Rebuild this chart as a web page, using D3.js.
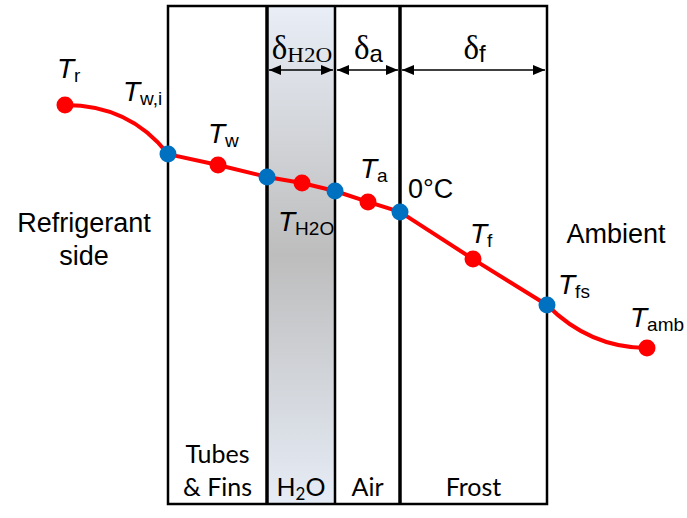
<!DOCTYPE html>
<html>
<head>
<meta charset="utf-8">
<script src="https://cdn.jsdelivr.net/npm/d3@7"></script>
<style>
  html, body { margin: 0; padding: 0; background: #fff; }
  svg { display: block; }
</style>
</head>
<body>
<svg id="chart" width="687" height="518"></svg>
<script>
// Layers of the frosted heat-exchanger wall, from refrigerant to ambient air
const layerNames = ["Tubes & Fins", "H2O", "Air", "Frost"];
// Layer boundaries, in depth units from the inner tube wall
const layerEdges = [0, 99, 167, 232, 379];
// Thickness markers drawn across the top of the layers (edge index ranges)
const thicknessSymbols = ["H2O", "a", "f"];
const thicknessFrom = [1, 2, 3];
const thicknessTo = [2, 3, 4];

// Temperature profile nodes
const nodeNames = ["Tr", "Tw,i", "Tw", "Tw,o", "TH2O", "TH2O,o", "Ta", "T0", "Tf", "Tfs", "Tamb"];
const nodeDepth = [-103, 0, 50, 99, 134, 167, 200, 232, 305, 379, 479];
// Relative temperature drop (0 = refrigerant, 100 = ambient)
const nodeTemp = [0, 20.2, 24.7, 29.6, 32.1, 35.4, 39.9, 44.0, 63.4, 82.3, 100];
// "bulk" = layer mean temperature, "interface" = boundary temperature
const nodeKind = ["bulk", "interface", "bulk", "interface", "bulk", "interface",
                  "bulk", "interface", "bulk", "interface", "bulk"];

// Text of the node labels: main symbol + subscript
const labelMain = ["T", "T", "T", "T", "T", "0°C", "T", "T", "T"];
const labelSub  = ["r", "w,i", "w", "H2O", "a", "", "f", "fs", "amb"];
const labelNode = ["Tr", "Tw,i", "Tw", "TH2O", "Ta", "T0", "Tf", "Tfs", "Tamb"];

const svg = d3.select("#chart");

const x = d3.scaleLinear().domain([0, 379]).range([168, 547]);
const y = d3.scaleLinear().domain([0, 100]).range([105, 348]);
const boxTop = 6, boxBottom = 504;

const SANS = "'Liberation Sans', Arial, sans-serif";
const SERIF = "'Liberation Serif', 'Times New Roman', serif";
const LABEL = "Lato, 'Open Sans', sans-serif";

// Gradient for the water film
const defs = svg.append("defs");
const grad = defs.append("linearGradient").attr("id", "waterGrad")
  .attr("x1", 0).attr("y1", 0).attr("x2", 0).attr("y2", 1);
grad.append("stop").attr("offset", "0%").attr("stop-color", "#e9eef7");
grad.append("stop").attr("offset", "50%").attr("stop-color", "#bdbdbd");
grad.append("stop").attr("offset", "100%").attr("stop-color", "#e6ecf6");

const marker = (id, orient) => defs.append("marker")
  .attr("id", id).attr("viewBox", "0 0 12 10").attr("refX", 12).attr("refY", 5)
  .attr("markerWidth", 12).attr("markerHeight", 10).attr("markerUnits", "userSpaceOnUse")
  .attr("orient", orient)
  .append("path").attr("d", "M0,0 L12,5 L0,10 Z").attr("fill", "#000");
marker("arrowEnd", "auto");
marker("arrowStart", "auto-start-reverse");

// Water film fill
const h2oIdx = layerNames.indexOf("H2O");
svg.append("rect")
  .attr("x", x(layerEdges[h2oIdx])).attr("y", boxTop)
  .attr("width", x(layerEdges[h2oIdx + 1]) - x(layerEdges[h2oIdx]))
  .attr("height", boxBottom - boxTop)
  .attr("fill", "url(#waterGrad)");

// Outer frame
svg.append("rect")
  .attr("x", x(layerEdges[0])).attr("y", boxTop)
  .attr("width", x(layerEdges[layerEdges.length - 1]) - x(layerEdges[0]))
  .attr("height", boxBottom - boxTop)
  .attr("fill", "none").attr("stroke", "#000").attr("stroke-width", 2.5);

// Inner layer boundaries (water film / frost boundaries are heavier)
const edgeWidth = [2.5, 3.5, 2.5, 3.5, 2.5];
svg.selectAll("line.edge").data(layerEdges.slice(1, -1)).join("line")
  .attr("class", "edge")
  .attr("x1", d => x(d)).attr("x2", d => x(d))
  .attr("y1", boxTop).attr("y2", boxBottom)
  .attr("stroke", "#000")
  .attr("stroke-width", (d, i) => edgeWidth[i + 1]);

// Thickness arrows
const arrowY = 70;
thicknessSymbols.forEach((s, i) => {
  const a = x(layerEdges[thicknessFrom[i]]), b = x(layerEdges[thicknessTo[i]]);
  svg.append("line")
    .attr("x1", a + 2).attr("x2", b - 2).attr("y1", arrowY).attr("y2", arrowY)
    .attr("stroke", "#000").attr("stroke-width", 1.5)
    .attr("marker-start", "url(#arrowStart)").attr("marker-end", "url(#arrowEnd)");
  const t = svg.append("text").attr("y", 59).attr("fill", "#000");
  t.append("tspan").attr("font-family", SERIF).attr("font-size", 33).text("δ");
  if (s === "H2O") {
    t.append("tspan").attr("font-family", SERIF).attr("font-size", 22)
      .attr("dy", 3).attr("textLength", 45).attr("lengthAdjust", "spacingAndGlyphs").text("H2O");
  } else {
    t.append("tspan").attr("font-family", SANS).attr("font-size", 24)
      .attr("dy", 3).text(s);
  }
  const w = t.node().getComputedTextLength();
  t.attr("x", (a + b) / 2 - w / 2 + 1);
});

// Temperature profile
const pts = nodeNames.map((n, i) => ({ name: n, px: x(nodeDepth[i]), py: y(nodeTemp[i]), kind: nodeKind[i] }));
const path = d3.path();
const first = pts[0], second = pts[1];
path.moveTo(first.px, first.py);
// Convective boundary layer on refrigerant side: leaves the bulk flat
path.quadraticCurveTo(second.px - 0.37 * (second.px - first.px), first.py, second.px, second.py);
for (let i = 2; i < pts.length - 1; i++) path.lineTo(pts[i].px, pts[i].py);
const pen = pts[pts.length - 2], last = pts[pts.length - 1];
// Air boundary layer on the ambient side: flattens into the free stream
path.quadraticCurveTo(pen.px + 0.43 * (last.px - pen.px), last.py, last.px, last.py);

svg.append("path").attr("d", path.toString())
  .attr("fill", "none").attr("stroke", "#ff0000").attr("stroke-width", 4)
  .attr("stroke-linejoin", "round");

svg.selectAll("circle.node").data(pts).join("circle")
  .attr("class", "node")
  .attr("cx", d => d.px).attr("cy", d => d.py).attr("r", 8.5)
  .attr("fill", d => d.kind === "bulk" ? "#ff0000" : "#0070c0");

// Label placement, relative to its node (dx, dy to the text baseline start)
const labelOffset = {
  "Tr":   [-8, -27],
  "Tw,i": [-45, -53],
  "Tw":   [-10, -22],
  "TH2O": [-24, 48],
  "Ta":   [-8, -24],
  "T0":   [8, -14],
  "Tf":   [-3, -16],
  "Tfs":  [11, -11],
  "Tamb": [-17, -21]
};

labelNode.forEach((n, i) => {
  const p = pts[nodeNames.indexOf(n)];
  const [dx, dy] = labelOffset[n];
  const t = svg.append("text").attr("x", p.px + dx).attr("y", p.py + dy)
    .attr("font-family", SANS).attr("fill", "#000");
  if (labelSub[i]) {
    t.append("tspan").attr("font-style", "italic").attr("font-size", 28).text(labelMain[i]);
    t.append("tspan").attr("font-size", 19).attr("dy", 4).text(labelSub[i]);
  } else {
    t.append("tspan").attr("font-size", 27).text(labelMain[i]);
  }
});

// Side labels
const side = svg.append("text").attr("font-family", SANS).attr("font-size", 27)
  .attr("text-anchor", "middle").attr("fill", "#000");
side.append("tspan").attr("x", 84).attr("y", 232).text("Refrigerant");
side.append("tspan").attr("x", 84).attr("y", 265).text("side");
svg.append("text").attr("x", 616).attr("y", 243)
  .attr("font-family", SANS).attr("font-size", 27).attr("text-anchor", "middle")
  .text("Ambient");

// Layer names along the bottom
layerNames.forEach((name, i) => {
  const cx = (x(layerEdges[i]) + x(layerEdges[i + 1])) / 2;
  const t = svg.append("text").attr("font-family", LABEL).attr("font-size", 25)
    .attr("text-anchor", "middle").attr("fill", "#000");
  if (name === "Tubes & Fins") {
    t.append("tspan").attr("x", cx).attr("y", 463).text("Tubes");
    t.append("tspan").attr("x", cx).attr("y", 496).text("& Fins");
  } else if (name === "H2O") {
    t.attr("x", cx).attr("y", 496);
    t.append("tspan").text("H");
    t.append("tspan").attr("font-size", 17).attr("dy", 4).text("2");
    t.append("tspan").attr("dy", -4).text("O");
  } else {
    t.attr("x", cx).attr("y", 496).text(name);
  }
});
</script>
</body>
</html>
